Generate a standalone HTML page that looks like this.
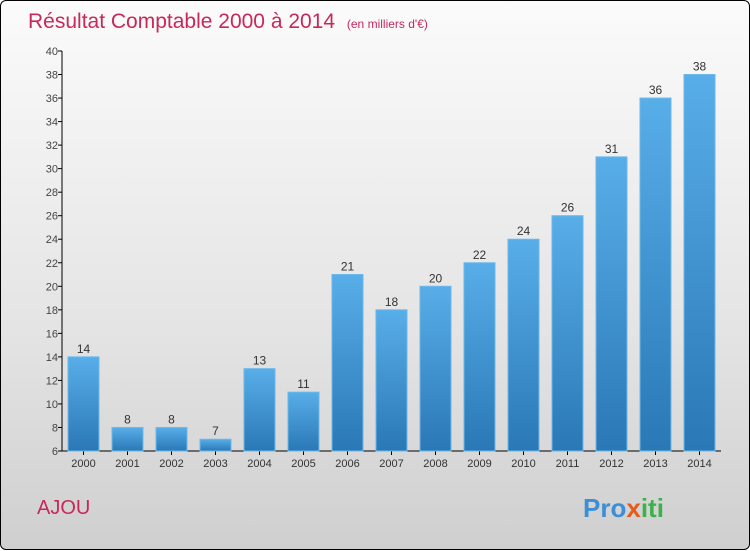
<!DOCTYPE html>
<html><head><meta charset="utf-8"><style>
body{margin:0;width:750px;height:550px;overflow:hidden}
#frame{position:absolute;left:0;top:0;width:748px;height:548px;border:1px solid #000;border-radius:6px;background:linear-gradient(#fbfbfb,#e4e4e4 60%,#cfcfcf);font-family:"Liberation Sans",sans-serif}
</style></head><body>
<div id="frame">
<svg width="750" height="550" style="position:absolute;left:0;top:0">
<defs><linearGradient id="bg" x1="0" y1="0" x2="0" y2="1"><stop offset="0" stop-color="#58aee8"/><stop offset="1" stop-color="#2a78b6"/></linearGradient></defs>
<text x="27" y="27" font-size="21" fill="#c8285a">Résultat Comptable 2000 à 2014 <tspan font-size="12" dx="6">(en milliers d'€)</tspan></text>
<g id="axes"></g><g id="bars"></g>
<text x="36" y="513" font-size="20" fill="#c8285a">AJOU</text>
<text x="582" y="516" font-size="26" font-weight="bold"><tspan fill="#3b8fd6">Pro</tspan><tspan fill="#e85a1a">x</tspan><tspan fill="#3bb34a">iti</tspan></text>
</svg></div>
<script>
const years=["2000","2001","2002","2003","2004","2005","2006","2007","2008","2009","2010","2011","2012","2013","2014"];
const values=[14,8,8,7,13,11,21,18,20,22,24,26,31,36,38];
const yTicks=[6,8,10,12,14,16,18,20,22,24,26,28,30,32,34,36,38,40];
const NS="http://www.w3.org/2000/svg";
const y0=450,y1=50,vmin=6,vmax=40,xL=61,x0=82.5,step=44,bw=31;
const Y=v=>y0-(v-vmin)/(vmax-vmin)*(y0-y1);
const X=i=>x0+i*step;
function mk(t,a,p){const e=document.createElementNS(NS,t);for(const k in a)e.setAttribute(k,a[k]);p.appendChild(e);return e;}
const ax=document.getElementById('axes'),bs=document.getElementById('bars');
let l=mk('line',{x1:xL,y1:y1,x2:xL,y2:y0,stroke:'#000'},ax);


l=mk('line',{x1:xL,y1:y0,x2:720,y2:y0,stroke:'#000'},ax);


yTicks.forEach(v=>{
 mk('line',{x1:xL-4,y1:Y(v),x2:xL,y2:Y(v),stroke:'#000'},ax);
 const t=mk('text',{x:xL-4,y:Y(v)+4,'text-anchor':'end','font-size':11,fill:'#444'},ax);
 t.textContent=v;
 
 
});
years.forEach((yr,i)=>{
 const v=values[i];
 const r=mk('rect',{x:X(i)-bw/2,y:Y(v),width:bw,height:y0-Y(v),fill:'url(#bg)',stroke:'#6bb8ec','stroke-width':1},bs);
 
 
 const t=mk('text',{x:X(i),y:Y(v)-4,'text-anchor':'middle','font-size':12,fill:'#333'},bs);
 t.textContent=v;
 
 
 mk('line',{x1:X(i),y1:y0,x2:X(i),y2:y0+4,stroke:'#000'},ax);
 const xt=mk('text',{x:X(i),y:y0+16,'text-anchor':'middle','font-size':11,fill:'#333'},ax);
 xt.textContent=yr;
 
 
});
</script>
</body></html>
